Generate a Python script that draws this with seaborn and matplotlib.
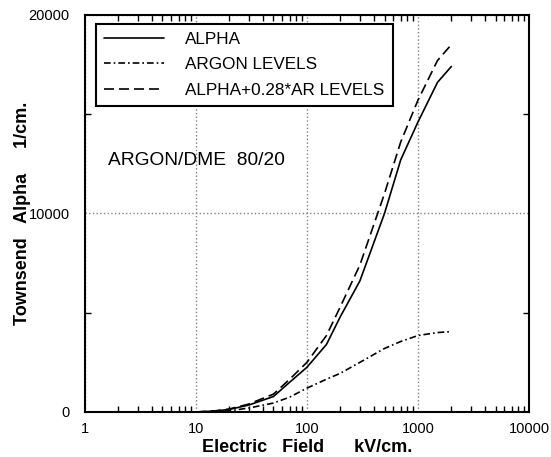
import numpy as np
import pandas as pd
import matplotlib
matplotlib.use("Agg")
import matplotlib.pyplot as plt
import seaborn as sns
from matplotlib.ticker import LogLocator, FixedLocator, NullFormatter

field = [10, 15, 20, 30, 50, 70, 100, 150, 200, 300, 500, 700, 1000, 1500, 2000]
alpha = [0, 50, 130, 350, 780, 1500, 2250, 3400, 4800, 6600, 10000, 12700, 14600, 16600, 17400]
argon = [0, 20, 60, 200, 450, 750, 1200, 1650, 1950, 2500, 3200, 3550, 3850, 4000, 4050]
combined = [0, 60, 150, 400, 900, 1650, 2500, 3850, 5300, 7400, 11000, 13600, 15700, 17700, 18500]
labels = ["ALPHA", "ARGON LEVELS", "ALPHA+0.28*AR LEVELS"]

sns.set_style("ticks")
plt.rcParams['font.family'] = ['Liberation Sans', 'DejaVu Sans']
plt.rcParams['text.color'] = 'black'
plt.rcParams['axes.labelcolor'] = 'black'
plt.rcParams['xtick.color'] = 'black'
plt.rcParams['ytick.color'] = 'black'

fig = plt.figure(figsize=(5.51, 4.57), dpi=100)
ax = fig.add_axes([0.154, 0.0985, 0.806, 0.869])

df = pd.DataFrame({"field": field, "ALPHA": alpha, "ARGON LEVELS": argon,
                   "ALPHA+0.28*AR LEVELS": combined})
styles = {"ALPHA": "-", "ARGON LEVELS": (0, (4, 1.8, 1, 1.8)),
          "ALPHA+0.28*AR LEVELS": (0, (6, 3))}
for lab in labels:
    sns.lineplot(data=df, x="field", y=lab, ax=ax, color="black", lw=1.2,
                 linestyle=styles[lab], label=lab)

ax.set_xscale("log")
ax.set_xlim(1, 10000)
ax.set_ylim(0, 20000)
ax.set_xticks([1, 10, 100, 1000, 10000])
ax.set_xticklabels(["1", "10", "100", "1000", "10000"])
ax.xaxis.set_minor_locator(LogLocator(base=10, subs=np.arange(2, 10)))
ax.xaxis.set_minor_formatter(NullFormatter())
ax.set_yticks([0, 10000, 20000])
ax.set_yticklabels(["0", "10000", "20000"])
ax.yaxis.set_minor_locator(FixedLocator([5000, 15000]))

ax.tick_params(which="both", direction="in", top=True, right=True, labelsize=10.5, width=1)
ax.tick_params(axis="y", which="major", length=0, pad=11)
ax.tick_params(axis="x", which="major", length=0, pad=7)
ax.tick_params(which="minor", length=4)
ax.grid(True, which="major", color="gray", linestyle=":", linewidth=1)
for s in ax.spines.values():
    s.set_linewidth(1.5)
    s.set_color("black")

ax.set_xlabel("Electric   Field      kV/cm.", fontsize=13, fontweight="bold")
ax.set_ylabel("Townsend   Alpha     1/cm.", fontsize=13, fontweight="bold")
ax.xaxis.set_label_coords(0.5, -0.068)
ax.yaxis.set_label_coords(-0.122, 0.5)

ax.text(0.052, 0.622, "ARGON/DME  80/20", transform=ax.transAxes, fontsize=13.8,
        va="baseline", ha="left")

leg = ax.legend(loc="upper left", bbox_to_anchor=(0.025, 0.978), frameon=True,
                fancybox=False, edgecolor="black", fontsize=12.3, handlelength=3.5,
                handletextpad=1.2, borderpad=0.5, labelspacing=0.6, borderaxespad=0)
leg.get_frame().set_linewidth(1.5)
leg.get_frame().set_alpha(1)

fig.savefig("out.png", dpi=100)
